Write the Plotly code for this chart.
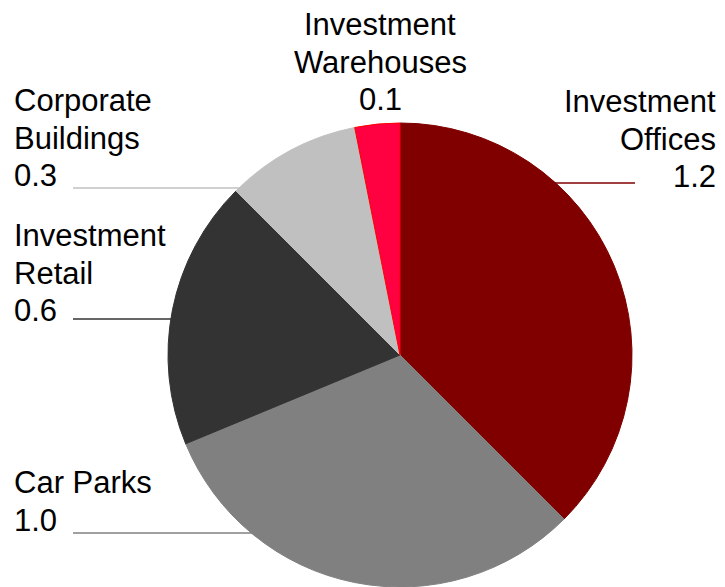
import math
import plotly.graph_objects as go

# Portfolio split by asset type (values shown on the labels)
segments = ["Investment Offices", "Car Parks", "Investment Retail",
            "Corporate Buildings", "Investment Warehouses"]
values = [1.2, 1.0, 0.6, 0.3, 0.1]
label_lines = [["Investment", "Offices"], ["Car Parks"], ["Investment", "Retail"],
               ["Corporate", "Buildings"], ["Investment", "Warehouses"]]
fill_colors = ["#800000", "#808080", "#333333", "#C0C0C0", "#FF0040"]
edge_colors = ["#800000", "#808080", "#333333", "#C0C0C0", "#FF0000"]

W, H = 725, 587
cx, cy, r = 400, 355, 232  # pie centre / radius in pixels
FS = 31
LINE_STEP = 37.5

fig = go.Figure(go.Pie(
    labels=segments,
    values=values,
    sort=False,
    direction="clockwise",
    rotation=0,
    textinfo="none",
    hoverinfo="label+value",
    marker=dict(colors=fill_colors, line=dict(color=edge_colors, width=1)),
    domain=dict(x=[(cx - r) / W, (cx + r) / W], y=[0, (H - (cy - r)) / H]),
    showlegend=False,
))

FONT = dict(family="Liberation Sans, Arial, sans-serif", size=FS, color="#000000")

# label placement: (x px, first baseline px, anchor, leader-line y px or None)
placement = {
    "Investment Offices": (717, 114, "right", 183),
    "Car Parks": (13, 495, "left", 533),
    "Investment Retail": (13, 248, "left", 319),
    "Corporate Buildings": (13, 113, "left", 188),
    "Investment Warehouses": (380, 37, "center", None),
}

annotations = []
shapes = []
for name, lines, v, col in zip(segments, label_lines, values, fill_colors):
    x, base, anchor, ly = placement[name]
    for i, line in enumerate(lines + [f"{v:.1f}"]):
        top = base + i * LINE_STEP - FS
        annotations.append(dict(
            x=x / W, y=1 - top / H, xref="paper", yref="paper",
            xanchor=anchor, yanchor="top", align=anchor,
            text=line, showarrow=False, font=FONT, borderpad=0,
        ))
    if ly is not None:
        dx = math.sqrt(max(r * r - (ly - cy) ** 2, 0))
        if anchor == "left":
            x0, x1 = 73, cx - dx + 2
        else:
            x0, x1 = cx + dx - 2, 635
        shapes.append(dict(
            type="line", xref="paper", yref="paper",
            x0=x0 / W, x1=x1 / W, y0=1 - ly / H, y1=1 - ly / H,
            line=dict(color=col, width=1.5), layer="below",
        ))

fig.update_layout(
    width=W, height=H,
    margin=dict(l=0, r=0, t=0, b=0),
    paper_bgcolor="#FFFFFF",
    plot_bgcolor="#FFFFFF",
    annotations=annotations,
    shapes=shapes,
)

fig.write_html("out.html")
